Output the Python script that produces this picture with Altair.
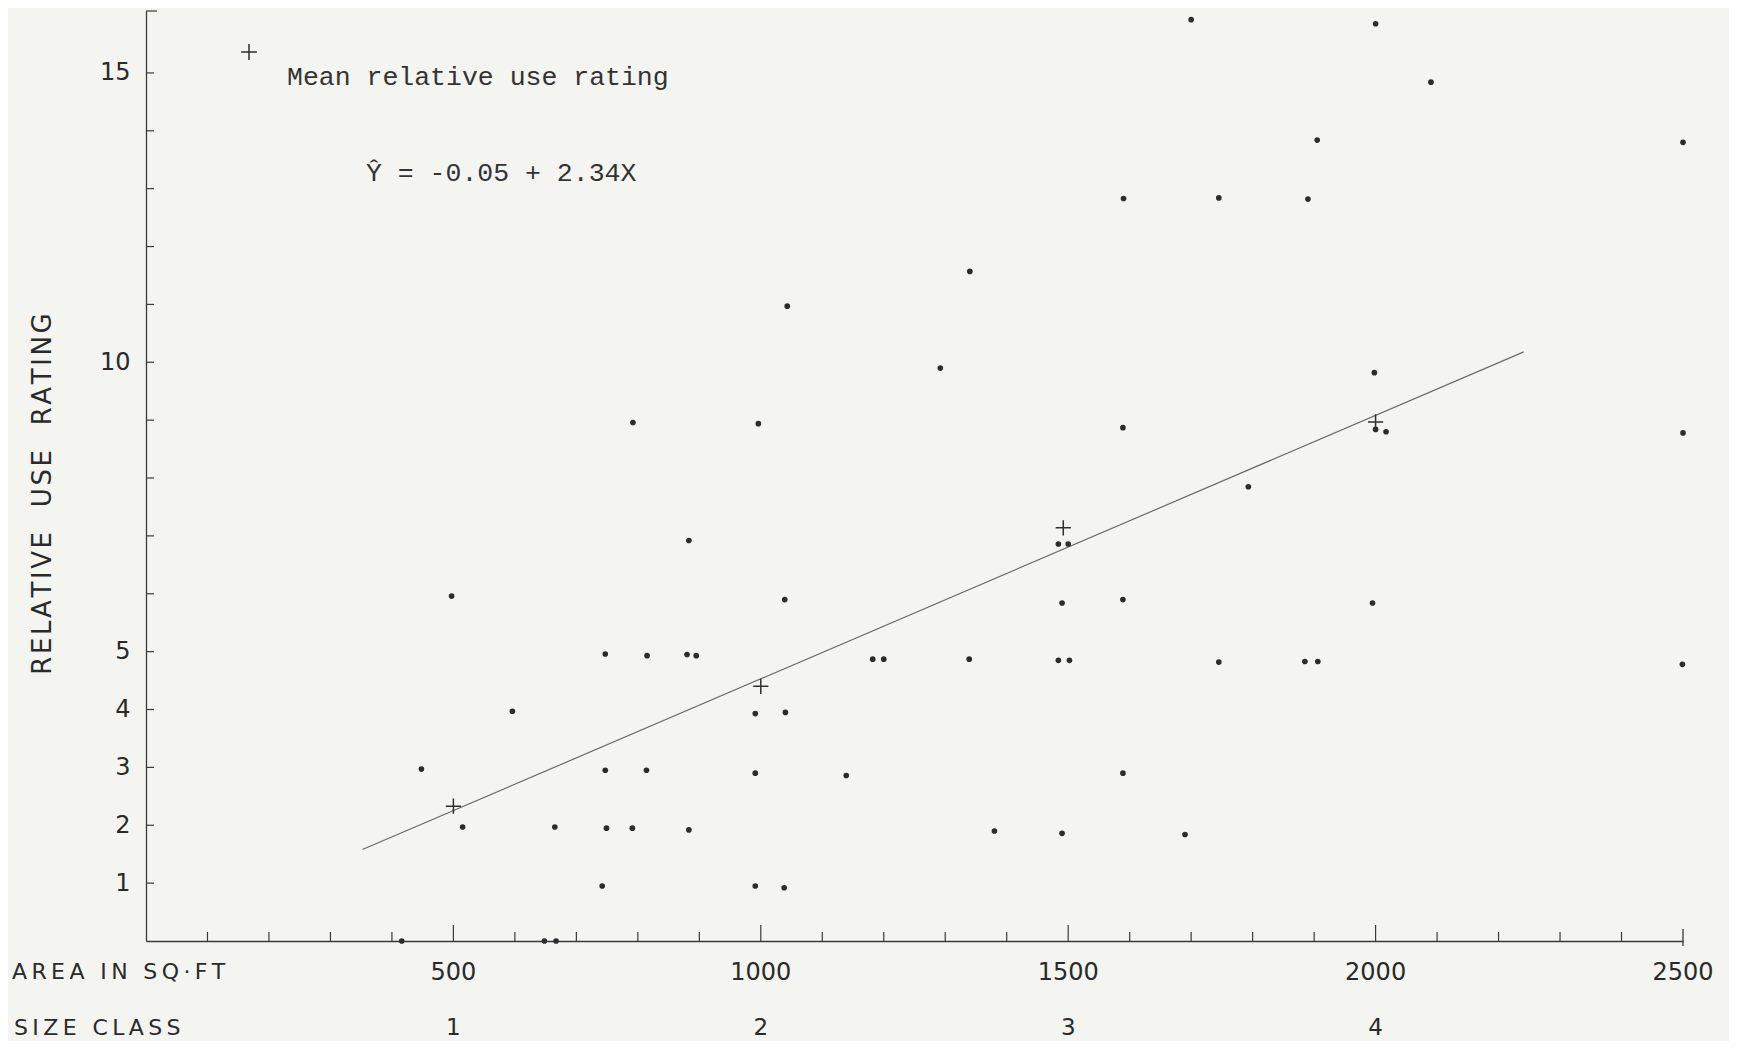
import altair as alt
import pandas as pd

# ---- data ----
area = [1700, 2000, 2090, 1905, 2500, 1590, 1745, 1890, 1340, 1043, 1292, 1998,
        792, 996, 1589, 2000, 2017, 2500, 1793, 883, 1484, 1500, 497, 1039, 1490,
        1589, 1995, 747, 815, 880, 895, 1182, 1200, 1339, 1484, 1502, 1745, 1885,
        1906, 2499, 596, 991, 1040, 448, 747, 814, 991, 1139, 1589, 515, 665, 749,
        791, 883, 1380, 1490, 1690, 742, 991, 1038, 416, 648, 667]
rating = [15.92, 15.85, 14.84, 13.84, 13.8, 12.83, 12.84, 12.82, 11.57, 10.97, 9.9, 9.82,
          8.96, 8.94, 8.87, 8.84, 8.8, 8.78, 7.85, 6.92, 6.86, 6.86, 5.96, 5.9, 5.84,
          5.9, 5.84, 4.96, 4.93, 4.95, 4.93, 4.87, 4.87, 4.87, 4.85, 4.85, 4.82, 4.83,
          4.83, 4.78, 3.97, 3.93, 3.95, 2.97, 2.95, 2.95, 2.9, 2.86, 2.9, 1.97, 1.97, 1.95,
          1.95, 1.92, 1.9, 1.86, 1.84, 0.95, 0.95, 0.92, 0.0, 0.0, 0.0]
mean_area = [500, 1000, 1492, 2000]
mean_rating = [2.33, 4.40, 7.14, 8.97]
line_area = [352, 2241]
line_rating = [1.58, 10.18]
y_tick_values = list(range(1, 16))
y_label_values = [1, 2, 3, 4, 5, 10, 15]
x_minor_ticks = [v for v in range(100, 2500, 100) if v % 500 != 0]
x_major_ticks = [500, 1000, 1500, 2000]
x_end_tick = [2500]
x_label_values = [500, 1000, 1500, 2000, 2500]
size_class_area = [500, 1000, 1500, 2000]
size_class_labels = ["1", "2", "3", "4"]
legend_text = "Mean relative use rating"
equation_text = "\u0176 = -0.05 + 2.34X"

# ---- layout ----
W, H = 1537, 930
XDOM = [0, 2500]
YDOM = [0, 16.07]
INK = "#2a2a2a"
LETTER = "DejaVu Sans"
TYPE = "Liberation Mono"
BG = "#f4f4f1"


def spaced(text, letter_gap="\u200a", word_gap="\u00a0\u00a0\u00a0"):
    return word_gap.join(letter_gap.join(list(w)) for w in text.split(" "))


xs = alt.Scale(domain=XDOM, nice=False, zero=False)
ys = alt.Scale(domain=YDOM, nice=False, zero=False)
xaxis = alt.Axis(labels=False, ticks=False, tickSize=0, grid=False, title=None,
                 domain=True, domainColor="#3a3a3a", domainWidth=1.3)
yaxis = alt.Axis(values=y_label_values, ticks=False, tickSize=0, grid=False, title=None,
                 domain=True, domainColor="#3a3a3a", domainWidth=1.3,
                 labelPadding=16, labelFont=LETTER, labelFontSize=24, labelColor=INK)


def X(field="x"):
    return alt.X(f"{field}:Q", scale=xs, axis=xaxis)


def Y(field="y"):
    return alt.Y(f"{field}:Q", scale=ys, axis=yaxis)


pts_df = pd.DataFrame({"x": area, "y": rating})
mean_df = pd.DataFrame({"x": mean_area, "y": mean_rating})
line_df = pd.DataFrame({"x": line_area, "y": line_rating})

points = alt.Chart(pts_df).mark_point(filled=True, shape="circle", size=32,
                                      color="#2c2c2c", opacity=1).encode(x=X(), y=Y())

plus_path = "M-1,0H1M0,-1V1"
means = alt.Chart(mean_df).mark_point(shape=plus_path, size=230, filled=False,
                                      stroke="#2e2e2e", strokeWidth=1.5, opacity=1).encode(x=X(), y=Y())

reg = alt.Chart(line_df).mark_line(color="#6a6a6a", strokeWidth=1.2).encode(x=X(), y=Y())

ytick = alt.Chart(pd.DataFrame({"y": y_tick_values})).mark_rule(
    color="#3a3a3a", strokeWidth=1.2).encode(y=Y(), x=alt.value(0), x2=alt.value(8))
ycap = alt.Chart(pd.DataFrame({"y": [YDOM[1]]})).mark_rule(
    color="#3a3a3a", strokeWidth=1.2).encode(y=Y(), x=alt.value(0), x2=alt.value(11))

xminor = alt.Chart(pd.DataFrame({"x": x_minor_ticks})).mark_rule(
    color="#3a3a3a", strokeWidth=1.2).encode(x=X(), y=alt.value(H), y2=alt.value(H - 9))
xmajor = alt.Chart(pd.DataFrame({"x": x_major_ticks})).mark_rule(
    color="#3a3a3a", strokeWidth=1.2).encode(x=X(), y=alt.value(H), y2=alt.value(H - 16))
xend = alt.Chart(pd.DataFrame({"x": x_end_tick})).mark_rule(
    color="#3a3a3a", strokeWidth=1.3).encode(x=X(), y=alt.value(H - 12), y2=alt.value(H + 5))

xlabels = alt.Chart(pd.DataFrame({"x": x_label_values, "t": [str(v) for v in x_label_values]})).mark_text(
    font=LETTER, fontSize=24, color=INK, baseline="middle", align="center").encode(
    x=X(), y=alt.value(H + 32), text="t:N")
classlabels = alt.Chart(pd.DataFrame({"x": size_class_area, "t": size_class_labels})).mark_text(
    font=LETTER, fontSize=23, color=INK, baseline="middle", align="center").encode(
    x=X(), y=alt.value(H + 87), text="t:N")

area_title = alt.Chart(pd.DataFrame({"t": [spaced("AREA IN SQ\u00b7FT", "\u2009", "\u00a0\u2009\u2009")]})).mark_text(
    font=LETTER, fontSize=22, color=INK, baseline="middle", align="left").encode(
    x=alt.value(-134), y=alt.value(H + 31), text="t:N")
class_title = alt.Chart(pd.DataFrame({"t": [spaced("SIZE CLASS", "\u2009", "\u00a0\u2009\u2009")]})).mark_text(
    font=LETTER, fontSize=22, color=INK, baseline="middle", align="left").encode(
    x=alt.value(-132), y=alt.value(H + 87), text="t:N")
y_title = alt.Chart(pd.DataFrame({"t": [spaced("RELATIVE USE RATING")]})).mark_text(
    font=LETTER, fontSize=26, color=INK, baseline="middle", align="center", angle=270).encode(
    x=alt.value(-103), y=alt.value(483), text="t:N")

legend_plus = alt.Chart(pd.DataFrame({"t": ["+"]})).mark_point(
    shape=plus_path, size=250, filled=False, stroke="#2e2e2e", strokeWidth=1.5, opacity=1).encode(
    x=alt.value(103), y=alt.value(41))
legend_lbl = alt.Chart(pd.DataFrame({"t": [legend_text]})).mark_text(
    font=TYPE, fontSize=26.5, color="#333333", baseline="alphabetic", align="left").encode(
    x=alt.value(141), y=alt.value(74), text="t:N")
eq_lbl = alt.Chart(pd.DataFrame({"t": [equation_text]})).mark_text(
    font=TYPE, fontSize=26.5, color="#333333", baseline="alphabetic", align="left").encode(
    x=alt.value(220), y=alt.value(170), text="t:N")

chart = alt.layer(
    reg, points, means, ytick, ycap, xminor, xmajor, xend,
    xlabels, classlabels, area_title, class_title, y_title,
    legend_plus, legend_lbl, eq_lbl,
).properties(
    width=W, height=H,
    autosize=alt.AutoSizeParams(type="none"),
    padding={"left": 138, "top": 3, "right": 46, "bottom": 100},
    background=BG,
).configure_view(stroke=None)

chart.save("out.html", embed_options={"renderer": "svg", "actions": False})
